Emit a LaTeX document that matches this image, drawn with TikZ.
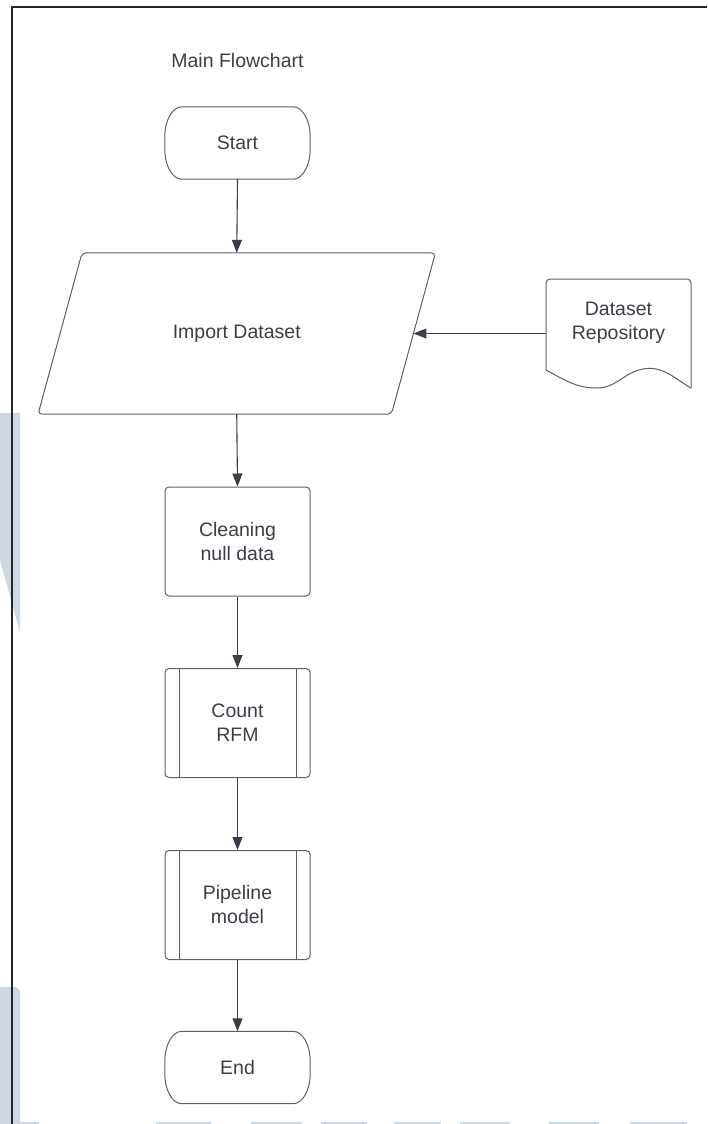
\documentclass[tikz,border=0pt]{standalone}
\usepackage{fontspec}
\setmainfont{Liberation Sans}
\usetikzlibrary{arrows.meta,calc}
\definecolor{ink}{HTML}{3A3F47}
\definecolor{edge}{HTML}{5B616B}
\definecolor{wm}{HTML}{CDD8E3}
\tikzset{
  txt/.style={font=\fontsize{19.5pt}{24pt}\selectfont, text=ink, align=center, inner sep=0pt},
  shp/.style={draw=edge, line width=1pt},
  boxnode/.style={txt, shp, rounded corners=4pt, minimum width=145pt, minimum height=109pt},
  termnode/.style={txt, minimum width=145pt, minimum height=72pt},
  flow/.style={draw=ink, line width=1.1pt, -{Triangle[length=13pt,width=10pt]}},
  frameline/.style={draw=black!85, line width=1.4pt},
}
\begin{document}
\begin{tikzpicture}[x=1pt,y=-1pt]
\useasboundingbox (0,0) rectangle (707,1124);
\fill[white] (0,0) rectangle (707,1124);
% watermark pieces
\fill[wm] (0,413) -- (20,413) -- (20,632) -- (0,560) -- cycle;
\fill[wm] (0,1124) -- (0,987) -- (15,987) to[out=0,in=90] (20,993) -- (20,1124) -- cycle;
\foreach \a/\b in {0/39,156/211,251/302,321/367,394/441,460/510,549/599,630/687}
  \fill[wm] (\a,1122) rectangle (\b,1124);
% frame
\draw[frameline] (12,1124) -- (12,7) -- (707,7);
% title
\node[txt] (title) at (237.5,61) {Main Flowchart};
% start
\node[termnode] (start) at (237.5,143) {Start};
\draw[shp] ([xshift=17pt]start.north west) -- ([xshift=-17pt]start.north east)
  arc[start angle=90,end angle=0,x radius=17pt,y radius=30pt]
  -- ([yshift=30pt]start.south east)
  arc[start angle=0,end angle=-90,x radius=17pt,y radius=30pt]
  -- ([xshift=17pt]start.south west)
  arc[start angle=270,end angle=180,x radius=17pt,y radius=30pt]
  -- ([yshift=-30pt]start.north west)
  arc[start angle=180,end angle=90,x radius=17pt,y radius=30pt] -- cycle;
% import dataset (parallelogram)
\node[txt, minimum width=353pt, minimum height=161pt] (import) at (236.75,333.5) {Import Dataset};
\draw[shp, rounded corners=4pt] ([xshift=22pt]import.north west) -- ([xshift=22pt]import.north east)
  -- ([xshift=-22pt]import.south east) -- ([xshift=-22pt]import.south west) -- cycle;
% dataset repository (document)
\node[minimum width=145pt, minimum height=109pt, inner sep=0pt] (repo) at (618.5,333.5) {};
\node[txt] (repotxt) at (618.5,323) {Dataset\\Repository};
\draw[shp, rounded corners=4pt] (546,370) -- (546,279) -- (691,279) -- (691,388);
\draw[shp] (546,370) to[out=-28,in=180] (597,388) to[out=0,in=190] (643,369) to[out=10,in=150] (691,388);
% cleaning
\node[boxnode] (clean) at (237.5,541.5) {Cleaning\\null data};
% count RFM
\node[boxnode] (count) at (237.5,723) {Count\\RFM};
\draw[shp] ([xshift=15pt]count.north west) -- ([xshift=15pt]count.south west);
\draw[shp] ([xshift=-14pt]count.north east) -- ([xshift=-14pt]count.south east);
% pipeline
\node[boxnode] (pipe) at (237.5,905) {Pipeline\\model};
\draw[shp] ([xshift=15pt]pipe.north west) -- ([xshift=15pt]pipe.south west);
\draw[shp] ([xshift=-14pt]pipe.north east) -- ([xshift=-14pt]pipe.south east);
% end
\node[termnode] (finish) at (237.5,1067.5) {End};
\draw[shp] ([xshift=17pt]finish.north west) -- ([xshift=-17pt]finish.north east)
  arc[start angle=90,end angle=0,x radius=17pt,y radius=30pt]
  -- ([yshift=30pt]finish.south east)
  arc[start angle=0,end angle=-90,x radius=17pt,y radius=30pt]
  -- ([xshift=17pt]finish.south west)
  arc[start angle=270,end angle=180,x radius=17pt,y radius=30pt]
  -- ([yshift=-30pt]finish.north west)
  arc[start angle=180,end angle=90,x radius=17pt,y radius=30pt] -- cycle;
% connectors
\draw[flow] (start.south) -- (import.north);
\draw[flow] (repo.west) -- (import.east);
\draw[flow] (import.south) -- (clean.north);
\draw[flow] (clean.south) -- (count.north);
\draw[flow] (count.south) -- (pipe.north);
\draw[flow] (pipe.south) -- (finish.north);
\end{tikzpicture}
\end{document}
